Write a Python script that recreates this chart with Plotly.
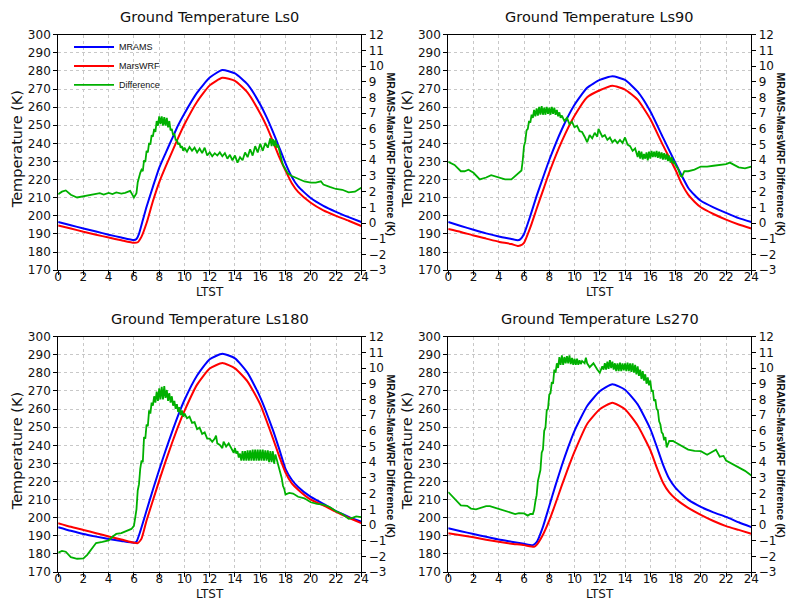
import plotly.graph_objects as go

# ---------------- DATA ----------------
titles = ["Ground Temperature Ls0", "Ground Temperature Ls90",
          "Ground Temperature Ls180", "Ground Temperature Ls270"]
x_ticks = list(range(0, 25, 2))

# Ls0
ls0_t_blue = [0, 1, 2, 3, 4, 5, 6, 6.2, 6.4, 6.7, 7, 7.5, 8, 8.5, 9, 9.5, 10, 11, 12, 13, 14, 15, 16, 16.5, 17,
              17.5, 18, 18.5, 19, 20, 21, 22, 23, 24]
ls0_mrams = [196.6, 194.8, 193.0, 191.3, 189.6, 188.0, 186.6, 187.2, 190, 197.5, 205, 216, 226.5, 234.5, 242.3,
             250, 256.5, 268, 276.3, 280.5, 278.6, 272.5, 261.5, 254.5, 246.5, 237.8, 229, 221.5, 216.2, 209.8,
             205.5, 202.2, 199.3, 196.6]
ls0_t_red = [0, 1, 2, 3, 4, 5, 6, 6.3, 6.6, 7, 7.5, 8, 8.5, 9, 9.5, 10, 11, 12, 13, 14, 15, 16, 16.5, 17, 17.5,
             18, 18.5, 19, 20, 21, 22, 23, 24]
ls0_marswrf = [194.6, 193.0, 191.2, 189.6, 188.0, 186.5, 185.1, 185.4, 188.5, 196, 208, 218.5, 227, 235, 243,
               250.5, 263, 272, 276.2, 274.5, 268, 256.5, 249.5, 241.2, 232.5, 225, 218, 213.2, 207.2, 203, 200,
               197.3, 194.4]
ls0_t_diff = [0, 0.3, 0.6, 1.0, 1.5, 2.0, 2.5, 3.0, 3.3, 3.6, 4.0, 4.3, 4.6, 5.0, 5.3, 5.7, 6.0, 6.2, 6.3, 6.4, 6.5,
              6.6, 6.7, 6.8, 6.9, 7.0, 7.1, 7.2, 7.3, 7.4, 7.5, 7.6, 7.7, 7.8, 7.9, 8.0, 8.1, 8.2, 8.3, 8.4, 8.5, 8.6,
              8.7, 8.8, 8.9, 9.0, 9.1, 9.2, 9.3, 9.4, 9.5, 9.6, 9.7, 9.8, 9.9, 10.0, 10.2, 10.4, 10.6, 10.8, 11.0,
              11.2, 11.4, 11.6, 11.8, 12.0, 12.2, 12.4, 12.6, 12.8, 13.0, 13.2, 13.4, 13.6, 13.8, 14.0, 14.2, 14.4,
              14.6, 14.8, 15.0, 15.2, 15.4, 15.6, 15.8, 16.0, 16.2, 16.4, 16.6, 16.8, 16.9, 17.0, 17.1, 17.2, 17.3,
              17.4, 17.5, 17.6, 17.7, 17.8, 18.0, 18.2, 18.5, 19.0, 19.5, 20.0, 20.4, 20.8, 21.0, 21.5, 22.0, 22.5,
              23.0, 23.5, 24.0]
ls0_diff = [1.83, 2.0, 2.08, 1.8, 1.63, 1.72, 1.78, 1.86, 1.9, 1.82, 1.92, 1.85, 1.95, 1.88, 1.92, 2.05, 1.63, 1.9,
            2.6, 3.0, 3.2, 3.4, 3.3, 4.0, 3.9, 4.6, 4.5, 5.1, 5.0, 5.6, 5.5, 6.0, 5.8, 6.5, 6.2, 6.8, 6.3, 6.8, 6.2,
            6.75, 6.2, 6.7, 6.1, 6.5, 5.9, 6.0, 5.6, 5.7, 5.3, 5.3, 5.0, 5.1, 4.8, 4.9, 4.6, 4.8, 4.55, 4.85, 4.6,
            4.8, 4.5, 4.75, 4.45, 4.8, 4.3, 4.5, 4.25, 4.45, 4.3, 4.5, 4.25, 4.45, 4.1, 4.35, 4.0, 4.3, 3.85, 4.2,
            4.0, 4.5, 4.2, 4.7, 4.3, 4.9, 4.5, 5.05, 4.6, 5.1, 4.8, 5.4, 4.9, 5.35, 4.9, 5.3, 4.8, 5.0, 4.6, 4.3,
            4.0, 3.7, 3.4, 3.15, 3.0, 2.8, 2.65, 2.57, 2.58, 2.66, 2.45, 2.3, 2.17, 2.12, 1.96, 2.0, 2.25]

# Ls90
ls90_t_blue = [0, 1, 2, 3, 4, 5, 5.5, 5.7, 6, 6.5, 7, 7.5, 8, 9, 10, 11, 12, 13, 14, 15, 16, 17, 18, 18.5, 19,
               19.5, 20, 21, 22, 23, 24]
ls90_mrams = [196.6, 194.4, 192.3, 190.3, 188.6, 187.2, 186.5, 187, 190, 200, 211, 221, 230.8, 247.8, 261.3, 270.7,
              275, 277, 275, 268.5, 257.7, 243.3, 229, 222, 215.5, 211.5, 208.3, 204.7, 201.6, 198.7, 196.6]
ls90_t_red = [0, 1, 2, 3, 4, 5, 5.5, 5.7, 6, 6.5, 7, 7.5, 8, 9, 10, 11, 12, 13, 14, 15, 16, 17, 18, 18.5, 19,
              19.5, 20, 21, 22, 23, 24]
ls90_marswrf = [192.7, 191.1, 189.1, 187.4, 185.7, 184.4, 183.4, 183.6, 185.1, 193.6, 203.9, 213.9, 223.9, 241.2,
                255.2, 265.5, 269.3, 271.8, 269.7, 264.1, 253.4, 239, 225.3, 217.5, 211.7, 207.8, 204.7, 201,
                197.9, 195.2, 193]
ls90_t_diff = [0, 0.5, 1.0, 1.3, 1.6, 2.0, 2.5, 3.0, 3.4, 4.0, 4.5, 5.0, 5.5, 5.8, 5.9, 6.0, 6.1, 6.2, 6.3, 6.4,
               6.5, 6.6, 6.7, 6.8, 6.9, 7.0, 7.1, 7.2, 7.3, 7.4, 7.5, 7.6, 7.7, 7.8, 7.9, 8.0, 8.1, 8.2, 8.3, 8.4,
               8.5, 8.6, 8.7, 8.8, 8.9, 9.0, 9.2, 9.4, 9.6, 9.8, 10.0, 10.2, 10.4, 10.6, 10.8, 11.0, 11.2, 11.4,
               11.6, 11.8, 11.9, 12.0, 12.2, 12.4, 12.6, 12.8, 13.0, 13.2, 13.4, 13.6, 13.8, 14.0, 14.2, 14.4,
               14.6, 14.8, 15.0, 15.1, 15.2, 15.3, 15.4, 15.5, 15.6, 15.7, 15.8, 15.9, 16.0, 16.1, 16.2, 16.3,
               16.4, 16.5, 16.6, 16.7, 16.8, 16.9, 17.0, 17.1, 17.2, 17.3, 17.4, 17.5, 17.6, 17.7, 17.8, 17.9,
               18.0, 18.2, 18.4, 18.5, 18.6, 18.7, 19.0, 19.5, 20.0, 20.5, 21.0, 21.5, 22.0, 22.3, 22.6, 23.0,
               23.5, 24.0]
ls90_diff = [3.9, 3.7, 3.3, 3.3, 3.4, 3.2, 2.78, 2.9, 3.05, 2.9, 2.78, 2.78, 3.15, 3.35, 4.0, 4.9, 5.2, 5.9, 6.0,
             6.5, 6.4, 6.9, 6.7, 7.2, 6.8, 7.3, 6.85, 7.4, 6.9, 7.45, 6.9, 7.35, 6.9, 7.4, 6.95, 7.35, 6.9, 7.4,
             6.95, 7.35, 6.9, 7.2, 6.8, 7.05, 6.7, 6.85, 6.5, 6.7, 6.3, 6.45, 6.1, 6.2, 5.85, 5.8, 5.5, 5.15, 5.6,
             5.4, 5.75, 5.5, 6.0, 5.8, 5.5, 5.6, 5.3, 5.45, 5.15, 5.3, 5.1, 5.3, 5.1, 5.45, 5.0, 4.9, 4.6, 4.75,
             4.2, 4.6, 4.1, 4.55, 4.05, 4.4, 4.1, 4.5, 4.0, 4.55, 4.1, 4.6, 4.2, 4.55, 4.2, 4.6, 4.15, 4.55, 4.1,
             4.5, 4.05, 4.45, 4.05, 4.4, 3.95, 4.3, 3.85, 4.2, 3.8, 3.9, 3.7, 3.45, 3.0, 2.95, 3.1, 3.3, 3.3, 3.4,
             3.6, 3.6, 3.65, 3.7, 3.75, 3.85, 3.7, 3.55, 3.48, 3.6]

# Ls180
ls180_t_blue = [0, 1, 2, 3, 4, 5, 6, 6.2, 6.5, 7, 7.5, 8, 8.5, 9, 9.5, 10, 11, 12, 13, 14, 15, 16, 17, 17.5, 18,
                18.5, 19, 20, 21, 22, 23, 24]
ls180_mrams = [194.8, 192.8, 191, 189.6, 188.3, 187.2, 186.2, 186.8, 192.5, 204, 215.5, 226.5, 237, 247, 256.5,
               265, 278.5, 287.5, 290.5, 288, 280, 266.5, 248.5, 238, 227, 221, 217, 211.5, 207.7, 203.6, 200.5,
               197.8]
ls180_t_red = [0, 1, 2, 3, 4, 5, 6, 6.3, 6.6, 7, 7.5, 8, 8.5, 9, 9.5, 10, 11, 12, 13, 14, 15, 16, 17, 17.5, 18,
               18.5, 19, 20, 21, 22, 23, 24]
ls180_marswrf = [197, 195, 193.3, 191.5, 189.7, 188, 186.2, 186, 188.5, 198.5, 209.5, 220.5, 231, 241, 250.5, 259,
                 273.5, 282.4, 285.4, 282.5, 275.2, 262.6, 244, 234, 225, 219, 215.5, 210, 206.8, 203.2, 200, 197]
ls180_t_diff = [0, 0.3, 0.6, 1.0, 1.5, 2.0, 2.3, 2.7, 3.0, 3.5, 4.0, 4.3, 4.6, 5.0, 5.5, 5.8, 6.0, 6.1, 6.2, 6.3,
                6.4, 6.5, 6.6, 6.7, 6.8, 6.9, 7.0, 7.1, 7.2, 7.3, 7.4, 7.5, 7.6, 7.7, 7.8, 7.9, 8.0, 8.1, 8.2, 8.3,
                8.4, 8.5, 8.6, 8.7, 8.8, 8.9, 9.0, 9.1, 9.2, 9.3, 9.4, 9.5, 9.6, 9.7, 9.8, 9.9, 10.0, 10.2, 10.4,
                10.6, 10.8, 11.0, 11.2, 11.4, 11.6, 11.8, 12.0, 12.2, 12.4, 12.5, 12.6, 12.8, 13.0, 13.1, 13.3,
                13.5, 13.7, 13.9, 14.0, 14.1, 14.2, 14.3, 14.4, 14.5, 14.6, 14.7, 14.8, 14.9, 15.0, 15.1, 15.2,
                15.3, 15.4, 15.5, 15.6, 15.7, 15.8, 15.9, 16.0, 16.1, 16.2, 16.3, 16.4, 16.5, 16.6, 16.7, 16.8,
                16.9, 17.0, 17.1, 17.2, 17.3, 17.4, 17.5, 17.6, 17.7, 17.8, 17.9, 18.0, 18.3, 18.6, 19.0, 19.5,
                20.0, 20.5, 21.0, 21.5, 22.0, 22.5, 23.0, 23.3, 23.6, 24.0]
ls180_diff = [-1.76, -1.65, -1.7, -2.05, -2.15, -2.13, -1.9, -1.45, -1.15, -1.08, -0.98, -0.75, -0.57, -0.52, -0.36,
              -0.25, -0.05, 0.4, 1.0, 2.2, 2.6, 3.6, 4.1, 4.0, 5.6, 5.5, 6.4, 6.3, 7.3, 7.1, 7.8, 7.6, 8.2, 7.8, 8.5,
              7.9, 8.7, 8.0, 8.8, 8.0, 8.85, 8.1, 8.6, 7.9, 8.4, 7.8, 8.2, 7.6, 7.9, 7.4, 7.7, 7.2, 7.5, 7.0, 7.3,
              6.9, 7.1, 6.8, 6.9, 6.5, 6.55, 6.1, 6.2, 5.8, 5.9, 5.5, 5.5, 5.3, 5.5, 5.7, 5.2, 5.1, 4.9, 5.3, 5.0,
              5.2, 4.9, 4.6, 4.9, 4.55, 4.7, 4.3, 4.55, 4.1, 4.7, 4.1, 4.7, 4.1, 4.75, 4.1, 4.75, 4.1, 4.8, 4.1,
              4.8, 4.1, 4.8, 4.1, 4.8, 4.1, 4.8, 4.1, 4.75, 4.1, 4.75, 4.0, 4.7, 4.0, 4.7, 3.9, 4.5, 4.2, 3.9, 3.6,
              3.2, 3.0, 2.5, 2.3, 1.95, 2.05, 2.0, 1.8, 1.7, 1.45, 1.35, 1.3, 1.15, 0.88, 0.7, 0.4, 0.45, 0.55, 0.5]

# Ls270
ls270_t_blue = [0, 1, 2, 3, 4, 5, 6, 6.7, 7, 7.5, 8, 8.5, 9, 9.5, 10, 11, 12, 13, 14, 15, 16, 16.5, 17, 17.5, 18,
                18.5, 19, 20, 21, 22, 23, 24]
ls270_mrams = [194.2, 192.6, 191, 189.5, 188, 186.8, 185.6, 184.9, 186.5, 195, 206.5, 218, 229, 239, 248, 261.7,
               269.8, 273.7, 270.7, 262.6, 249.1, 239.5, 229.5, 221.5, 216.5, 213, 210, 206, 203, 200.5, 197.5,
               194.8]
ls270_t_red = [0, 1, 2, 3, 4, 5, 6, 6.8, 7, 7.5, 8, 8.5, 9, 9.5, 10, 11, 12, 13, 14, 15, 16, 16.5, 17, 17.5, 18,
               18.5, 19, 20, 21, 22, 23, 24]
ls270_marswrf = [191.5, 190.3, 189.2, 187.9, 186.7, 185.7, 184.9, 184.0, 185, 190.6, 198.5, 208, 218, 227.5, 236.5,
                 251.8, 259.9, 263.5, 259.9, 250.9, 237.4, 228, 219.5, 214, 210.5, 207.8, 205.5, 201.6, 198.2,
                 195.4, 193.3, 191.2]
ls270_t_diff = [0, 0.3, 0.6, 1.0, 1.5, 1.8, 2.2, 2.6, 3.0, 3.3, 3.7, 4.0, 4.5, 5.0, 5.3, 5.6, 6.0, 6.3, 6.5, 6.7,
                6.8, 6.9, 7.0, 7.1, 7.2, 7.3, 7.4, 7.5, 7.6, 7.7, 7.8, 7.9, 8.0, 8.1, 8.2, 8.3, 8.4, 8.5, 8.6, 8.7,
                8.8, 8.9, 9.0, 9.1, 9.2, 9.3, 9.4, 9.5, 9.6, 9.7, 9.8, 9.9, 10.0, 10.1, 10.2, 10.3, 10.4, 10.5,
                10.6, 10.8, 10.9, 11.0, 11.2, 11.5, 11.8, 12.0, 12.2, 12.3, 12.4, 12.5, 12.6, 12.7, 12.8, 12.9,
                13.0, 13.1, 13.2, 13.3, 13.4, 13.5, 13.6, 13.7, 13.8, 13.9, 14.0, 14.1, 14.2, 14.3, 14.4, 14.5,
                14.6, 14.7, 14.8, 14.9, 15.0, 15.1, 15.2, 15.3, 15.4, 15.5, 15.6, 15.7, 15.8, 15.9, 16.0, 16.1,
                16.2, 16.3, 16.4, 16.5, 16.6, 16.7, 16.8, 16.9, 17.0, 17.1, 17.2, 17.3, 17.5, 17.8, 18.0, 18.5,
                19.0, 19.5, 20.0, 20.5, 21.0, 21.2, 21.5, 21.8, 22.0, 22.5, 23.0, 23.5, 24.0]
ls270_diff = [2.1, 1.85, 1.6, 1.25, 1.22, 1.05, 1.0, 1.1, 1.2, 1.2, 1.1, 1.02, 0.88, 0.75, 0.7, 0.75, 0.74, 0.6,
              0.7, 0.7, 0.95, 1.5, 1.9, 2.8, 3.3, 3.5, 4.6, 4.8, 6.0, 6.2, 7.3, 7.4, 8.3, 8.4, 9.1, 9.0, 9.9, 9.7,
              10.3, 10.0, 10.7, 10.2, 10.8, 10.2, 10.7, 10.3, 10.75, 10.3, 10.8, 10.25, 10.65, 10.2, 10.6, 10.2,
              10.6, 10.2, 10.5, 10.25, 10.45, 10.3, 10.65, 10.3, 10.05, 10.3, 9.9, 9.7, 10.1, 9.9, 10.3, 9.9,
              10.4, 9.95, 10.5, 10.0, 10.4, 9.9, 10.3, 9.8, 10.3, 9.8, 10.35, 9.8, 10.3, 9.85, 10.3, 9.8, 10.35,
              9.8, 10.3, 9.75, 10.3, 9.7, 10.2, 9.6, 10.1, 9.5, 9.9, 9.3, 9.8, 9.2, 9.6, 9.0, 9.4, 8.9, 9.2, 8.5,
              8.6, 7.9, 8.0, 7.4, 7.3, 6.6, 6.4, 5.9, 5.8, 5.4, 5.6, 4.95, 5.35, 5.35, 5.25, 5.05, 4.8, 4.72, 4.7,
              4.48, 4.7, 4.8, 4.35, 4.4, 4.1, 3.9, 3.7, 3.45, 3.15]

panels = [
    (ls0_t_blue, ls0_mrams, ls0_t_red, ls0_marswrf, ls0_t_diff, ls0_diff),
    (ls90_t_blue, ls90_mrams, ls90_t_red, ls90_marswrf, ls90_t_diff, ls90_diff),
    (ls180_t_blue, ls180_mrams, ls180_t_red, ls180_marswrf, ls180_t_diff, ls180_diff),
    (ls270_t_blue, ls270_mrams, ls270_t_red, ls270_marswrf, ls270_t_diff, ls270_diff),
]

# ---------------- LAYOUT GEOMETRY (pixels) ----------------
W, H = 800, 614
col_px = [(55, 362.7), (451, 758.7)]
row_px = [(28.3, 269.3), (337.3, 578.3)]

BLUE = "#0000ff"
RED = "#ff0000"
GREEN = "#00b000"
TICKFONT = dict(family="DejaVu Sans", size=12, color="#111111")

fig = go.Figure()
layout = dict(width=W, height=H, margin=dict(l=0, r=0, t=0, b=0),
              paper_bgcolor="white", plot_bgcolor="white", showlegend=True)
annotations = []


def px2x(p):
    return p / W


def px2y(p):
    return 1 - p / H


for i, (tb, vb, tr, vr, td, vd) in enumerate(panels):
    r, c = divmod(i, 2)
    x0, x1 = col_px[c]
    y0, y1 = row_px[r]
    xn = i + 1
    yl = 2 * i + 1
    yr = 2 * i + 2
    xs = "x" if xn == 1 else f"x{xn}"
    yls = "y" if yl == 1 else f"y{yl}"
    yrs = f"y{yr}"
    xkey = "xaxis" if xn == 1 else f"xaxis{xn}"
    ylkey = "yaxis" if yl == 1 else f"yaxis{yl}"
    yrkey = f"yaxis{yr}"

    first = (i == 0)
    fig.add_trace(go.Scatter(x=tb, y=vb, mode="lines", name="MRAMS",
                             line=dict(color=BLUE, width=2, shape="spline", smoothing=0.5),
                             xaxis=xs, yaxis=yls, showlegend=first, legendgroup="a"))
    fig.add_trace(go.Scatter(x=tr, y=vr, mode="lines", name="MarsWRF",
                             line=dict(color=RED, width=2, shape="spline", smoothing=0.5),
                             xaxis=xs, yaxis=yls, showlegend=first, legendgroup="b"))
    fig.add_trace(go.Scatter(x=td, y=vd, mode="lines", name="Difference",
                             line=dict(color=GREEN, width=1.8),
                             xaxis=xs, yaxis=yrs, showlegend=first, legendgroup="c"))

    common = dict(showline=True, linecolor="black", linewidth=1, ticks="outside", ticklen=4,
                  tickwidth=1, tickcolor="black", tickfont=TICKFONT, zeroline=False)
    layout[xkey] = dict(domain=[px2x(x0), px2x(x1)], anchor=yls, range=[0, 24], tickvals=x_ticks,
                        mirror=True, showgrid=True, gridcolor="#c8c8c8", griddash="dot", gridwidth=1,
                        ticklabelstandoff=-9, **common)
    layout[ylkey] = dict(domain=[px2y(y1), px2y(y0)], anchor=xs, range=[170, 300], dtick=10,
                         tick0=170, mirror=True, showgrid=True, gridcolor="#c8c8c8", griddash="dot",
                         gridwidth=1, **common)
    layout[yrkey] = dict(anchor=xs, overlaying=yls, side="right", range=[-3, 12], dtick=1, tick0=-3,
                         showgrid=False, **common)

    cx = (x0 + x1) / 2
    annotations.append(dict(text=titles[i], x=px2x(cx), y=px2y(y0 - 18.5), xref="paper", yref="paper",
                            showarrow=False, font=dict(family="DejaVu Sans", size=14.5, color="#111111"),
                            xanchor="center", yanchor="middle"))
    annotations.append(dict(text="LTST", x=px2x(cx), y=px2y(y1 + 22), xref="paper", yref="paper",
                            showarrow=False, font=dict(family="DejaVu Sans", size=12, color="#111111"),
                            xanchor="center", yanchor="middle"))
    annotations.append(dict(text="Temperature (K)", x=px2x(x0 - 41), y=px2y((y0 + y1) / 2 - 3),
                            xref="paper", yref="paper", showarrow=False, textangle=-90,
                            font=dict(family="DejaVu Sans", size=14.5, color="#111111"),
                            xanchor="center", yanchor="middle"))
    annotations.append(dict(text="<b>MRAMS-MarsWRF Difference (K)</b>", x=px2x(x1 + 30),
                            y=px2y((y0 + y1) / 2 + 2), xref="paper", yref="paper", showarrow=False,
                            textangle=90, font=dict(family="Liberation Sans", size=10.5, color="#111111"),
                            xanchor="center", yanchor="middle"))

layout["annotations"] = annotations
layout["legend"] = dict(x=px2x(66), y=px2y(26), xanchor="left", yanchor="top",
                        bgcolor="rgba(0,0,0,0)", borderwidth=0, traceorder="grouped", tracegroupgap=0,
                        font=dict(family="Liberation Sans", size=9, color="#111111"), itemwidth=40)
fig.update_layout(**layout)

fig.write_html("out.html", config={"displayModeBar": False},
               post_script="document.body.style.margin='0';document.body.style.overflow='hidden';")
